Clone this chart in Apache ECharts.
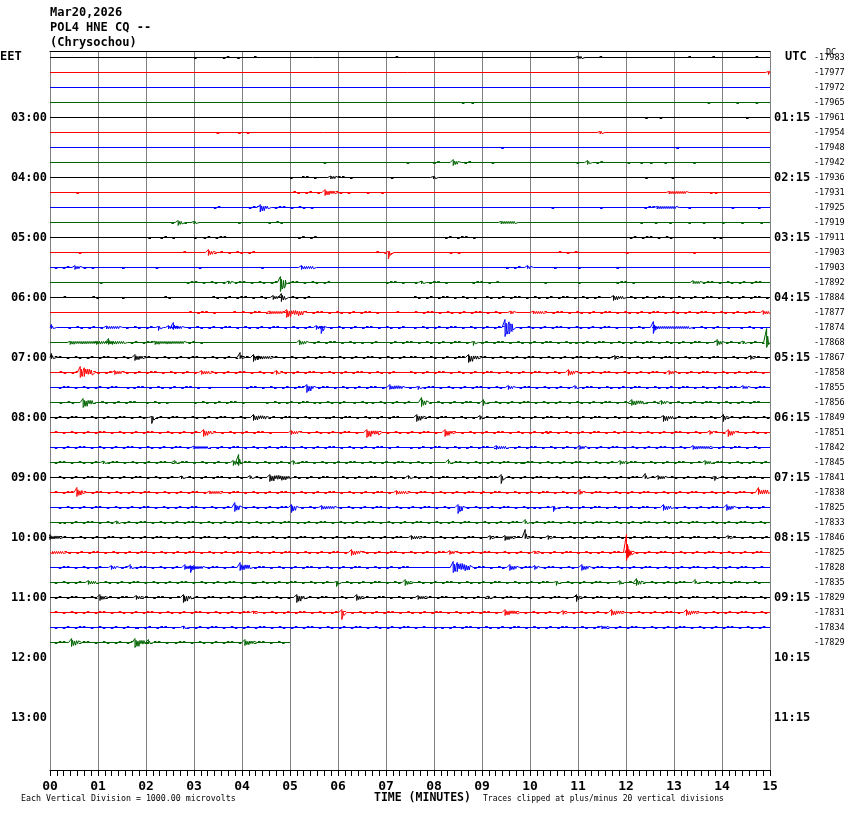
<!DOCTYPE html>
<html>
<head>
<meta charset="utf-8">
<script src="https://cdn.jsdelivr.net/npm/echarts@6/dist/echarts.min.js"></script>
<style>
html,body{margin:0;padding:0;background:#fff;}
#chart{width:850px;height:814px;}
</style>
</head>
<body>
<div id="chart"></div>
<script>
// ---- data ----
const minuteLabels = ['00','01','02','03','04','05','06','07','08','09','10','11','12','13','14','15'];
const hourLabelsEET = ['EET','03:00','04:00','05:00','06:00','07:00','08:00','09:00','10:00','11:00','12:00','13:00'];
const hourLabelsUTC = ['UTC','01:15','02:15','03:15','04:15','05:15','06:15','07:15','08:15','09:15','10:15','11:15'];
const traceDC = [-17983,-17977,-17972,-17965,-17961,-17954,-17948,-17942,-17936,-17931,-17925,-17919,
  -17911,-17903,-17903,-17892,-17884,-17877,-17874,-17868,-17867,-17858,-17855,-17856,
  -17849,-17851,-17842,-17845,-17841,-17838,-17825,-17833,-17846,-17825,-17828,-17835,
  -17829,-17831,-17834,-17829];
const lastTraceMinutes = 5;
// events per trace: [minute, amplitude up, amplitude down, duration in minutes]
const traceEvents = [
  [[3.0,1,1,0.05],[3.6,1,0.5,0.15],[3.9,1,0.5,0.05],[4.25,1,0,0.02],[7.2,1,0,0.08],[11.0,1.3,1,0.08],[11.45,1,0,0.02],[13.3,1,0,0.02],[13.8,1,0,0.02],[14.7,1,0,0.02]],
  [[14.97,1,2,0.03]],
  [],
  [[8.58,0,1,0.02],[8.78,0,1,0.02],[13.7,0,1,0.02],[14.3,0,1,0.02],[14.7,0,1,0.02]],
  [[12.4,0,1,0.02],[12.7,0,1,0.02],[14.5,0,1,0.02]],
  [[3.47,0,1,0.03],[3.92,0,1,0.02],[4.1,0,1,0.02],[11.46,0,1.5,0.02]],
  [[9.4,0,1,0.02],[13.05,0,1,0.02]],
  [[5.7,0,1,0.02],[7.43,0,1,0.02],[7.9,0.5,1,0.3],[8.4,3,3,0.1],[8.55,1,1,0.35],[9.2,0.5,1,0.05],[10.97,1,1,0.1],[11.2,2,2,0.05],[11.3,1,1,0.3],[11.95,1,1,0.2],[12.3,0,1,0.02],[12.5,0,1,0.02],[12.8,0,1,0.02],[13.4,0,1,0.02]],
  [[5.0,0,1,0.02],[5.25,0.5,1,0.4],[5.85,1.5,1.5,0.1],[6.0,0.5,1,0.35],[7.1,0,1,0.02],[7.99,0,1.5,0.02],[12.4,0,1,0.02],[12.95,0,1,0.02]],
  [[0.55,1,1,0.1],[5.07,0.5,1,0.6],[5.73,3,3,0.2],[5.95,1,1,0.3],[6.6,0,1,0.05],[6.9,0,1,0.05],[12.9,1,1.5,0.35],[13.75,0,1,0.02],[13.85,0,1,0.02]],
  [[3.33,0.5,1,0.25],[4.06,0.5,1,0.3],[4.38,3,4.5,0.17],[4.6,0.5,1,0.9],[10.45,0.5,1,0.1],[11.46,0,1,0.02],[12.3,0.5,1,0.3],[12.65,1,1.5,0.4],[13.3,0,1,0.02],[14.2,0,1,0.02],[14.75,0,1,0.02]],
  [[2.53,1,1,0.1],[2.67,2,3,0.08],[2.8,1,1,0.05],[3.0,0,1.5,0.03],[3.92,0,1,0.02],[4.55,0.5,1,0.3],[9.4,0.5,1.5,0.3],[12.3,0,1,0.02],[12.6,0,1,0.02],[12.9,0,1,0.02],[13.3,0,1,0.02],[13.6,0,1,0.02],[14.0,0,1,0.02],[14.4,0,1,0.02],[14.8,0,1,0.02]],
  [[2.05,0,1,0.1],[2.3,0.5,1,0.35],[3.0,0,1,0.02],[3.2,0.5,1,0.5],[5.17,0.5,1,0.45],[8.23,0.5,1,0.75],[12.08,0.5,1,0.95],[13.82,0,1,0.02],[13.95,0,1,0.02]],
  [[0.6,0,1,0.2],[2.78,0.5,1,0.2],[3.3,3,3,0.1],[3.42,1,1,0.1],[3.55,0.5,1,0.8],[6.8,0.5,1,0.25],[7.05,1,6.5,0.03],[7.1,0.5,1,0.05],[8.33,0,1,0.25],[10.6,0.5,1,0.4],[12.0,0,1,0.02],[13.4,0,1,0.02]],
  [[0.1,0.5,1,0.4],[0.52,2,2,0.11],[0.7,0.5,1,0.25],[1.5,0,1,0.02],[2.2,0,1,0.02],[3.1,0,1,0.02],[4.4,0,1,0.02],[5.24,2,2,0.25],[9.5,0.5,1,0.3],[9.95,2,0,0.06],[10.5,0,1,0.02],[11.0,0,1,0.02],[11.8,0,1,0.02]],
  [[1.04,0,1,0.02],[2.85,0.5,1,0.8],[3.72,1.5,1.5,0.06],[3.85,0.5,1,0.9],[4.8,6,9,0.13],[4.95,1,1,0.9],[7.0,0.5,1,0.5],[7.6,0.5,1,0.1],[7.74,1.5,1.5,0.04],[7.9,0.5,1,0.5],[8.8,0.5,1,0.6],[10.3,0,1,0.02],[11.0,0,1,0.02],[11.8,0.5,1,0.4],[13.4,2,0.5,0.15],[13.6,0.5,1,1.3]],
  [[0.2,0.5,1,0.15],[0.8,0.5,1,0.3],[1.5,0,1,0.02],[2.3,0.5,1,0.3],[3.3,0.5,1,1.3],[4.65,2,2,0.1],[4.82,4,4,0.08],[4.95,1,1,0.5],[7.5,0.5,1,1.4],[9.0,0.5,1,2.6],[11.74,2,3,0.2],[12.0,0.5,1,3.0]],
  [[2.9,0.5,1,0.6],[3.82,1,0,0.03],[4.0,0.5,1,0.55],[4.58,1.5,1.5,0.28],[4.93,3,5,0.35],[5.3,0.5,1,1.7],[7.22,1,1,0.2],[7.6,0.5,1,1.9],[9.6,1.5,1.5,0.06],[10.07,1.5,1.5,0.2],[10.3,0.5,1,4.5],[14.86,2,2,0.14]],
  [[0.03,3,0.5,0.02],[0.3,0.5,1,0.8],[1.18,1.5,1.5,0.28],[1.5,0.5,1,0.7],[2.26,0,3,0.02],[2.47,2,1.5,0.1],[2.57,5,2,0.06],[2.65,1.5,1.5,0.1],[2.8,0.5,1,2.7],[5.55,2,2,0.1],[5.65,1,6,0.06],[5.75,0.5,1,1.7],[7.5,0.5,1,2.0],[9.48,8,9,0.17],[9.7,0.5,1,2.2],[12.0,1,1,0.5],[12.57,6,6,0.04],[12.61,1.5,1.5,0.7],[13.3,0.5,1,0.7],[14.03,1,1,0.2],[14.3,0.5,1,0.6]],
  [[0.42,1,2,0.55],[0.97,1,2,0.25],[1.22,4,2,0.04],[1.3,1,2,0.25],[1.6,0.5,1,0.55],[2.19,1,2,0.6],[2.8,0.5,1,0.4],[5.2,2.5,2.5,0.15],[5.4,0.5,1,1.2],[6.6,1,1,0.35],[7.0,0.5,1,1.8],[8.82,0,3,0.02],[8.9,0.5,1,2.0],[10.94,1,1,0.04],[11.0,0.5,1,2.9],[13.9,3,3,0.1],[14.0,0.5,1,0.4],[14.44,1.5,1.5,0.04],[14.5,0.5,1,0.4],[14.93,14,5,0.05]],
  [[0.03,4,0.5,0.02],[0.1,0.5,1,1.6],[1.77,3,3,0.17],[1.95,0.5,1,2.0],[3.96,5,0.5,0.02],[4.0,0.5,1,0.2],[4.24,3,4,0.1],[4.34,1.5,2,0.25],[4.6,0.5,1,2.9],[7.5,0.5,1,1.2],[8.72,3,5,0.2],[8.95,0.5,1,2.8],[11.77,2,2,0.03],[11.8,0.5,1,2.8],[14.6,2,2,0.04],[14.65,0.5,1,0.3]],
  [[0.2,0.5,1,0.4],[0.63,6,5,0.24],[0.9,0.5,1,0.4],[1.35,2,2,0.14],[1.5,0.5,1,1.6],[3.16,2,2,0.17],[3.35,0.5,1,1.3],[4.72,2,2,0.03],[4.8,0.5,1,2.5],[7.5,0.5,1,3.2],[10.8,3,3,0.14],[10.95,0.5,1,1.9],[12.9,2,2,0.1],[13.0,0.5,1,2.0]],
  [[0.1,0.5,1,1.4],[1.6,1,1,0.03],[1.65,0.5,1,1.6],[3.3,0,1,0.02],[4.0,0.5,1,1.3],[5.35,3,5,0.14],[5.5,0.5,1,1.5],[7.08,3,2,0.28],[7.4,0.5,1,0.2],[7.67,0,2,0.02],[7.7,0.5,1,1.8],[9.55,2,2,0.1],[9.7,0.5,1,1.2],[10.94,2,0,0.02],[11.0,0.5,1,3.4],[14.44,2,1,0.11],[14.6,0.5,1,0.4]],
  [[0.2,0.5,1,0.45],[0.69,4,5,0.21],[0.9,0.5,1,1.0],[2.0,0.5,1,0.5],[3.0,0.5,1,1.2],[4.5,0.5,1,0.9],[5.49,1,1,0.03],[5.6,0.5,1,0.7],[6.32,1,1,0.35],[6.7,0.5,1,0.8],[7.74,5,4,0.11],[7.9,0.5,1,1.1],[9.03,3,3,0.04],[9.1,0.5,1,1.6],[10.8,0.5,1,1.3],[12.12,3,3,0.24],[12.4,0.5,1,0.3],[12.74,2,2,0.11],[12.9,0.5,1,2.0]],
  [[0.1,0.5,1,2.0],[2.12,0,6,0.02],[2.2,0.5,1,2.0],[4.24,3,3,0.27],[4.55,0.5,1,1.1],[5.73,1,1,0.03],[5.8,0.5,1,1.6],[7.64,3,4,0.14],[7.8,0.5,1,1.1],[8.96,2,2,0.03],[9.0,0.5,1,3.7],[12.78,2,4,0.21],[13.0,0.5,1,1.0],[14.03,3,4,0.07],[14.1,0.5,1,0.9]],
  [[0.1,0.5,1,3.0],[3.2,3,4,0.17],[3.4,0.5,1,1.3],[5.03,2,2,0.14],[5.2,0.5,1,1.3],[6.6,3,5,0.24],[6.85,0.5,1,1.3],[8.23,3,4,0.17],[8.4,0.5,1,2.0],[10.35,1,1,0.03],[10.4,0.5,1,1.5],[11.94,1,1,0.14],[12.1,0.5,1,1.6],[13.75,2,2,0.07],[13.85,0.5,1,0.3],[14.13,3,4,0.14],[14.3,0.5,1,0.7]],
  [[0.1,0.5,1,2.8],[3.0,1.5,1.5,0.3],[3.3,0.5,1,4.0],[7.5,0.5,1,1.8],[9.3,2,2,0.2],[9.5,0.5,1,1.5],[11.04,2,2,0.11],[11.2,0.5,1,2.2],[13.4,2,2,0.35],[13.75,0.5,1,1.2]],
  [[0.1,0.5,1,1.0],[1.11,1.5,1.5,0.03],[1.2,0.5,1,1.4],[2.6,2,0.5,0.02],[2.65,0.5,1,1.1],[3.82,2,3,0.1],[3.93,8,3,0.03],[3.96,0.5,1,1.1],[5.07,2,2,0.05],[5.15,0.5,1,2.8],[8.3,3,0,0.02],[8.35,0.5,1,1.4],[9.8,1,1,0.03],[9.85,0.5,1,2.0],[11.88,2,2,0.1],[12.0,0.5,1,1.6],[13.65,2,2,0.13],[13.8,0.5,1,1.2]],
  [[0.1,0.5,1,2.6],[2.74,1.5,1.5,0.03],[2.8,0.5,1,1.3],[4.17,2,0,0.02],[4.2,0.5,1,0.35],[4.58,3,4,0.42],[5.0,0.5,1,2.4],[7.47,2,0,0.02],[7.5,0.5,1,1.9],[9.4,3,6,0.03],[9.45,0.5,1,2.9],[12.4,4,0,0.02],[12.45,0.5,1,0.2],[12.67,2,2,0.14],[12.85,0.5,1,1.0],[13.85,0,3,0.03],[13.9,0.5,1,1.1]],
  [[0.1,0.5,1,0.4],[0.56,5,4,0.13],[0.7,0.5,1,2.6],[3.33,1.5,1.5,0.21],[3.55,0.5,1,3.6],[7.22,2,2,0.21],[7.45,0.5,1,1.5],[8.96,1,1,0.03],[9.0,0.5,1,2.0],[11.04,3,2,0.06],[11.1,0.5,1,3.6],[14.76,5,2,0.21]],
  [[0.1,0.5,1,3.7],[3.85,5,4,0.11],[3.97,0.5,1,1.0],[5.03,3,5,0.11],[5.15,0.5,1,0.5],[5.66,2,2,0.28],[5.95,0.5,1,2.5],[8.5,3,6,0.1],[8.6,0.5,1,1.4],[10.07,1,1,0.03],[10.1,0.5,1,0.35],[10.49,0,4,0.02],[10.5,0.5,1,2.2],[12.78,3,3,0.17],[12.95,0.5,1,1.1],[14.1,3,3,0.14],[14.25,0.5,1,0.7]],
  [[0.1,0.5,1,0.15],[0.28,1,1,0.03],[0.35,0.5,1,1.0],[1.39,1.5,1.5,0.03],[1.45,0.5,1,3.6],[5.14,1,1,0.03],[5.2,0.5,1,4.6],[9.9,3,0,0.02],[9.95,0.5,1,0.9],[10.9,1,1,0.03],[10.95,0.5,1,4.0]],
  [[0.0,3,2,0.2],[0.2,0.5,1,7.2],[7.53,2,2,0.17],[7.7,0.5,1,1.4],[9.17,2,2,0.03],[9.2,0.5,1,0.25],[9.48,2,3,0.17],[9.65,0.5,1,0.2],[9.9,8,1,0.02],[9.95,0.5,1,0.4],[10.38,2,2,0.03],[10.4,0.5,1,3.7],[14.13,2,0,0.02],[14.15,0.5,1,0.8]],
  [[0.03,1.5,1.5,0.25],[0.3,0.5,1,5.9],[6.28,3,3,0.18],[6.5,0.5,1,1.8],[8.33,2,2,0.11],[8.45,0.5,1,1.6],[10.1,1.5,1.5,0.03],[10.15,0.5,1,1.8],[12.01,18,8,0.03],[12.04,6,5,0.08],[12.12,0.5,1,2.8]],
  [[0.1,0.5,1,1.1],[1.28,2,2,0.11],[1.4,0.5,1,0.25],[1.67,3,0.5,0.02],[1.7,0.5,1,1.1],[2.81,3,2,0.12],[2.93,2,5,0.04],[3.0,2,2,0.19],[3.2,0.5,1,0.7],[3.96,5,3,0.21],[4.17,0.5,1,3.3],[8.4,6,5,0.35],[8.75,0.5,1,0.8],[9.58,3,3,0.14],[9.72,0.5,1,0.3],[10.1,2,2,0.07],[10.2,0.5,1,0.85],[11.08,3,3,0.14],[11.22,0.5,1,3.7]],
  [[0.1,0.5,1,0.7],[0.8,2,2,0.17],[0.97,0.5,1,3.2],[4.2,1,1,0.03],[4.25,0.5,1,1.7],[5.97,0,4,0.02],[6.0,0.5,1,1.4],[7.4,3,3,0.1],[7.5,0.5,1,3.0],[10.55,0,3,0.02],[10.6,0.5,1,1.2],[11.87,2,2,0.03],[11.9,0.5,1,0.3],[12.22,4,3,0.11],[12.35,0.5,1,1.0],[13.44,3,0.5,0.02],[13.5,0.5,1,1.4]],
  [[0.1,0.5,1,0.9],[1.04,3,3,0.11],[1.15,0.5,1,0.6],[1.8,2,2,0.1],[1.9,0.5,1,0.85],[2.78,3,5,0.17],[2.95,0.5,1,2.1],[5.14,3,5,0.17],[5.31,0.5,1,1.0],[6.39,3,3,0.1],[6.5,0.5,1,1.1],[7.67,2,2,0.14],[7.81,0.5,1,1.3],[9.13,1.5,1.5,0.03],[9.16,0.5,1,1.8],[10.97,3,4,0.07],[11.04,0.5,1,3.9]],
  [[0.1,0.5,1,4.1],[4.24,1.5,1.5,0.03],[4.27,0.5,1,1.8],[6.08,3,7,0.03],[6.11,0.5,1,3.3],[9.48,3,3,0.24],[9.72,0.5,1,0.9],[10.69,2,2,0.03],[10.72,0.5,1,0.95],[11.7,3,3,0.21],[11.91,0.5,1,1.3],[13.26,3,3,0.21],[13.47,0.5,1,1.5]],
  [[0.1,0.5,1,1.6],[1.77,1,1,0.03],[1.8,0.5,1,0.95],[2.78,1.5,1.5,0.04],[2.85,0.5,1,5.0],[8.0,1,1,0.11],[8.15,0.5,1,3.3],[11.5,1.5,1.5,0.1],[11.6,0.5,1,3.3]],
  [[0.1,0.5,1,0.35],[0.45,4,4,0.14],[0.6,0.5,1,1.15],[1.77,4,5,0.21],[2.0,0.5,1,0.05],[2.05,3,1,0.02],[2.08,1,1,0.5],[2.6,0.5,1,1.4],[4.06,3,3,0.18],[4.25,0.5,1,0.7]]
];
// ---- styles ----
const COLORS = ['#000000', '#ff0000', '#0000ff', '#006400'];
const TRACE_SPACING = 15;
const PX = 1 / 48;            // one pixel, in minutes
const SPIKE_SHAPE = [1, 0.6, 0.85, 0.45, 0.95, 0.7, 0.35, 0.8, 0.55, 0.9, 0.5, 0.75];
const DASH_SHAPE = [1, -1, 0, 1, -1, -1, 0, 1, 0, -1, 1, 0];
const MONO = '"DejaVu Sans Mono", "Liberation Mono", monospace';

function buildTrace(i) {
  const base = i * TRACE_SPACING;
  const end = i === traceEvents.length - 1 ? lastTraceMinutes : 15;
  const main = [[0, base]];
  const dashes = [];
  const evs = traceEvents[i].slice().sort((a, b) => a[0] - b[0]);
  evs.forEach(function (e) {
    const m = e[0], up = e[1], dn = e[2], dur = e[3];
    const quiet = up <= 1 && dn <= 1;
    if (quiet) {
      const n = Math.max(1, Math.round(dur / (4 * PX)));
      for (let k = 0; k < n; k++) {
        const x = m + k * 4 * PX;
        if (x + 2.5 * PX > end) break;
        let d = DASH_SHAPE[(k + i * 5) % DASH_SHAPE.length];
        if (n === 1) d = 1;
        if (d === 0) continue;
        if (up <= 0) d = Math.abs(d);
        else if (dn <= 0) d = -Math.abs(d);
        const y = base + d;
        dashes.push([x, y], [x + 2.6 * PX, y], [x + 2.6 * PX, null]);
      }
    } else {
      const n = Math.max(2, Math.round(dur / PX));
      main.push([m - 3 * PX, base]);
      let lastX = m;
      for (let k = 0; k <= n; k++) {
        const x = m + k * PX;
        if (x > end) break;
        const env = k === 0 ? 1 : (1 - 0.5 * k / n) * SPIKE_SHAPE[k % SPIKE_SHAPE.length];
        const t = base - Math.max(up * env, 1.1);
        const b = base + Math.max(dn * env, 1.1);
        if (k % 2 === 0) main.push([x, t], [x, b]); else main.push([x, b], [x, t]);
        lastX = x;
      }
      main.push([Math.min(end, lastX + 3 * PX), base]);
    }
  });
  main.push([end, base]);
  return { main: main, dashes: dashes };
}

const series = [];
traceEvents.forEach(function (_, i) {
  const tr = buildTrace(i);
  series.push({
    type: 'line', data: tr.dashes, showSymbol: false, symbol: 'none', animation: false, silent: true,
    connectNulls: false, lineStyle: { color: COLORS[i % 4], width: 1 }, z: 2
  });
  series.push({
    type: 'line', data: tr.main, showSymbol: false, symbol: 'none', animation: false, silent: true,
    lineStyle: { color: COLORS[i % 4], width: 1 }, z: 3
  });
});

const yMin = -6.5, yMax = 712.5;
const hourValues = hourLabelsEET.map((_, k) => k * 60).slice(1);
const traceValues = traceDC.map((_, i) => i * TRACE_SPACING);

const chart = echarts.init(document.getElementById('chart'), null, { renderer: 'canvas' });
chart.setOption({
  backgroundColor: '#ffffff',
  animation: false,
  title: {
    text: 'Mar20,2026\nPOL4 HNE CQ --\n(Chrysochou)',
    left: 50, top: 5, padding: 0,
    textStyle: { fontFamily: MONO, fontSize: 12, fontWeight: 'bold', color: '#000', lineHeight: 15 }
  },
  grid: { left: 50, right: 80, top: 51, bottom: 44, containLabel: false },
  xAxis: [{
    type: 'value', min: 0, max: 15, interval: 1, position: 'bottom',
    axisLine: { show: true, onZero: false, lineStyle: { color: '#000', width: 1 } },
    axisTick: { show: true, length: 6, lineStyle: { color: '#000' } },
    minorTick: { show: true, splitNumber: 7, length: 6, lineStyle: { color: '#000' } },
    splitLine: { show: true, lineStyle: { color: '#808080', width: 1 } },
    axisLabel: {
      margin: 10, fontFamily: MONO, fontSize: 13, fontWeight: 'bold', color: '#000',
      formatter: v => minuteLabels[Math.round(v)]
    }
  }, {
    type: 'value', min: 0, max: 15, position: 'top',
    axisLine: { show: true, onZero: false, lineStyle: { color: '#000', width: 1 } },
    axisTick: { show: false }, axisLabel: { show: false }, splitLine: { show: false }
  }],
  yAxis: [{
    type: 'value', min: yMin, max: yMax, inverse: true, position: 'left',
    axisLine: { show: false, onZero: false }, axisTick: { show: false }, splitLine: { show: false },
    axisLabel: {
      customValues: hourValues, margin: 3, fontFamily: MONO, fontSize: 12, fontWeight: 'bold', color: '#000',
      formatter: v => hourLabelsEET[Math.round(v / 60)]
    }
  }, {
    type: 'value', min: yMin, max: yMax, inverse: true, position: 'right',
    axisLine: { show: false, onZero: false }, axisTick: { show: false }, splitLine: { show: false },
    axisLabel: {
      customValues: hourValues, margin: 4, fontFamily: MONO, fontSize: 12, fontWeight: 'bold', color: '#000',
      formatter: v => hourLabelsUTC[Math.round(v / 60)]
    }
  }, {
    type: 'value', min: yMin, max: yMax, inverse: true, position: 'right', offset: 44,
    axisLine: { show: false, onZero: false }, axisTick: { show: false }, splitLine: { show: false },
    axisLabel: {
      customValues: traceValues, margin: 0, fontFamily: MONO, fontSize: 8.5, color: '#000', align: 'left',
      formatter: v => String(traceDC[Math.round(v / TRACE_SPACING)])
    }
  }],
  graphic: [
    { type: 'text', left: 0, top: 51, style: { text: hourLabelsEET[0], font: 'bold 12px ' + MONO, fill: '#000' } },
    { type: 'text', left: 785, top: 51, style: { text: hourLabelsUTC[0], font: 'bold 12px ' + MONO, fill: '#000' } },
    { type: 'text', left: 826, top: 48, style: { text: 'DC', font: '8.5px ' + MONO, fill: '#000' } },
    { type: 'text', left: 374, top: 792, style: { text: 'TIME (MINUTES)', font: 'bold 11.5px ' + MONO, fill: '#000' } },
    { type: 'text', left: 483, top: 795, style: { text: 'Traces clipped at plus/minus 20 vertical divisions', font: '8px ' + MONO, fill: '#000' } },
    { type: 'text', left: 21, top: 795, style: { text: 'Each Vertical Division = 1000.00 microvolts', font: '8.3px ' + MONO, fill: '#000' } }
  ],
  series: series
});
</script>
</body>
</html>
